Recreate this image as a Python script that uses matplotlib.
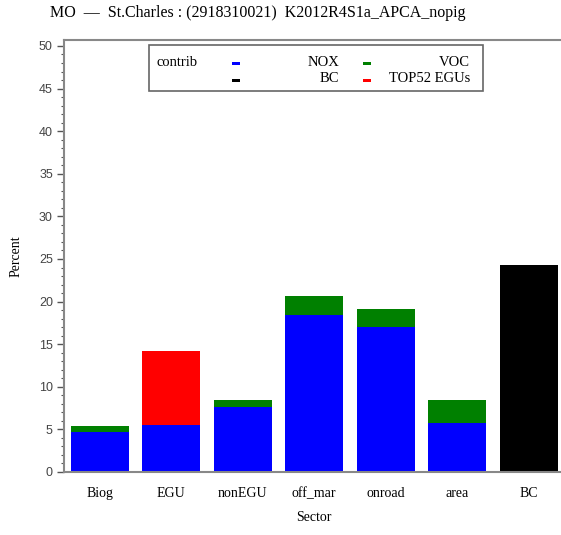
import matplotlib
matplotlib.use("Agg")
import matplotlib.pyplot as plt
import numpy as np

# Source-sector contributions (percent) at the St.Charles monitor
sectors = ['Biog', 'EGU', 'nonEGU', 'off_mar', 'onroad', 'area', 'BC']
nox = [4.73, 5.48, 7.63, 18.43, 17.02, 5.75, 0.0]
voc = [0.67, 0.0, 0.78, 2.23, 2.08, 2.66, 0.0]
top52 = [0.0, 8.72, 0.0, 0.0, 0.0, 0.0, 0.0]
bc = [0.0, 0.0, 0.0, 0.0, 0.0, 0.0, 24.33]

series_colors = {'NOX': '#0000ff', 'VOC': '#008000', 'BC': '#000000', 'TOP52 EGUs': '#ff0000'}
series_values = {'NOX': nox, 'VOC': voc, 'TOP52 EGUs': top52, 'BC': bc}
stack_order = ['NOX', 'VOC', 'TOP52 EGUs', 'BC']

title = "MO  \u2014  St.Charles : (2918310021)  K2012R4S1a_APCA_nopig"

plt.rcParams['font.family'] = ['Liberation Serif', 'DejaVu Serif']

W, H = 561, 535
fig = plt.figure(figsize=(W / 100, H / 100), dpi=100)

# axes in pixel geometry
left_px, right_px, top_px, bottom_px = 64, 564.5, 40, 472
ax = fig.add_axes([left_px / W, (H - bottom_px) / H,
                   (right_px - left_px) / W, (bottom_px - top_px) / H])

x = np.arange(len(sectors))
base = np.zeros(len(sectors))
for name in stack_order:
    vals = np.array(series_values[name])
    ax.bar(x, vals, width=0.805, bottom=base, color=series_colors[name],
           linewidth=0, zorder=2)
    base += vals

ax.set_xlim(-0.5, len(sectors) - 0.5)
ax.set_ylim(0, 50.7)
ax.set_yticks(np.arange(0, 51, 5))
ax.set_yticks(np.arange(0, 51, 1), minor=True)
ax.set_xticks(x)
ax.set_xticklabels(sectors, fontsize=10)
ax.tick_params(axis='x', length=0, pad=11)
ax.tick_params(axis='y', which='major', length=5, width=1, color='#555555',
               labelsize=9, labelcolor='#444444', pad=3)
ax.tick_params(axis='y', which='minor', length=2.5, width=0.8, color='#555555')
for lbl in ax.get_yticklabels():
    lbl.set_family(['Liberation Sans', 'DejaVu Sans'])

for side in ['left', 'top', 'bottom']:
    ax.spines[side].set_color('#888888')
    ax.spines[side].set_linewidth(1.5)
ax.spines['right'].set_visible(False)

ax.set_ylabel('Percent', fontsize=10, labelpad=12)
ax.set_xlabel('Sector', fontsize=10, labelpad=8)

fig.text(258 / W, 1 - 13 / H, title, ha='center', va='center', fontsize=11.5)

# legend drawn on a full-figure overlay in pixel units
ov = fig.add_axes([0, 0, 1, 1], facecolor='none')
ov.set_xlim(0, W)
ov.set_ylim(H, 0)
ov.axis('off')
ov.add_patch(plt.Rectangle((149, 45), 334, 46, fill=False,
                           edgecolor='#666666', linewidth=1.2))
ov.text(157, 62, 'contrib', ha='left', va='center', fontsize=10.5)
legend_slots = [
    ('NOX', 236, 339, 63),
    ('VOC', 367, 470, 63),
    ('BC', 236, 339, 80),
    ('TOP52 EGUs', 367, 470, 80),
]
for name, mx, tx, yy in legend_slots:
    ov.add_patch(plt.Rectangle((mx - 4, yy - 1.5), 8, 3,
                               color=series_colors[name], linewidth=0))
    ov.text(tx, yy - 1, name, ha='right', va='center', fontsize=10.5)

fig.savefig('out.png', dpi=100)
